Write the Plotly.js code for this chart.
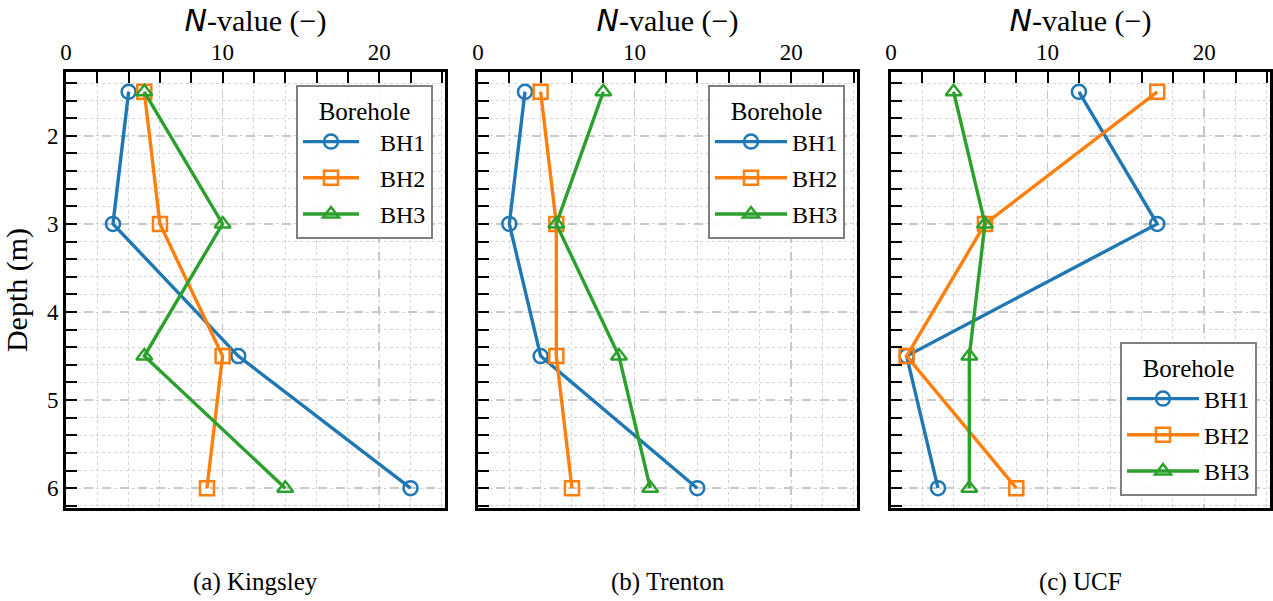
<!DOCTYPE html>
<html>
<head>
<meta charset="utf-8">
<script src="https://cdn.plot.ly/plotly-3.0.1.min.js"></script>
<style>html,body{margin:0;padding:0;background:#fff;}#chart{width:1273px;height:601px;}</style>
</head>
<body>
<div id="chart"></div>
<script>
// ---- data ----
const depths = [1.5, 3, 4.5, 6];
const boreholes = ["BH1", "BH2", "BH3"];
const sites = ["(a) Kingsley", "(b) Trenton", "(c) UCF"];
const kingsleyBH1 = [4, 3, 11, 22];
const kingsleyBH2 = [5, 6, 10, 9];
const kingsleyBH3 = [5, 10, 5, 14];
const trentonBH1 = [3, 2, 4, 14];
const trentonBH2 = [4, 5, 5, 6];
const trentonBH3 = [8, 5, 9, 11];
const ucfBH1 = [12, 17, 1, 3];
const ucfBH2 = [17, 6, 1, 8];
const ucfBH3 = [4, 6, 5, 5];
const xTickVals = [0, 10, 20];
const yTickVals = [2, 3, 4, 5, 6];

const siteSeries = [
  [kingsleyBH1, kingsleyBH2, kingsleyBH3],
  [trentonBH1, trentonBH2, trentonBH3],
  [ucfBH1, ucfBH2, ucfBH3]
];

const colors = ["#1f77b4", "#ff7f0e", "#2ca02c"];
const symbols = ["circle-open", "square-open", "triangle-up-open"];
const SERIF = "Liberation Serif";

const traces = [];
siteSeries.forEach((series, si) => {
  const sfx = si === 0 ? "" : String(si + 1);
  series.forEach((vals, bi) => {
    traces.push({
      type: "scatter",
      mode: "lines+markers",
      name: boreholes[bi],
      x: vals,
      y: depths,
      xaxis: "x" + sfx,
      yaxis: "y" + sfx,
      legend: "legend" + sfx,
      legendgroup: "g" + si + "_" + bi,
      line: {color: colors[bi], width: 3.4},
      marker: {symbol: symbols[bi], size: 14, color: colors[bi], line: {color: colors[bi], width: 2.5}},
      cliponaxis: false,
      hoverinfo: "x+y+name"
    });
  });
});

const W = 1273, H = 601;
const mL = 66, mR = 3, mT = 72, mB = 93;
const pw = W - mL - mR, ph = H - mT - mB;
function px2dom(a, b) { return [(a - mL) / pw, (b - mL) / pw]; }
const domains = [px2dom(66, 445), px2dom(478, 857), px2dom(891, 1270)];

function xaxisDef(i) {
  return {
    domain: domains[i],
    anchor: i === 0 ? "y" : "y" + (i + 1),
    side: "top",
    range: [0, 24.2],
    tickvals: xTickVals,
    ticks: "inside",
    ticklen: 11,
    tickwidth: 2,
    tickcolor: "#000",
    showline: true,
    linecolor: "#000",
    linewidth: 3,
    mirror: true,
    showgrid: true,
    gridcolor: "#c8c8c8",
    gridwidth: 1.5,
    griddash: "dash",
    zeroline: false,
    tickfont: {family: SERIF, size: 23, color: "#000"},
    minor: {dtick: 2, tick0: 0, ticks: "inside", ticklen: 11, tickwidth: 2, tickcolor: "#000",
            showgrid: true, gridcolor: "#d4d4d4", gridwidth: 1, griddash: "dot"},
    title: {text: '<span style="font-family:DejaVu Sans"><i>N</i></span>-value (−)',
            font: {family: SERIF, size: 30, color: "#000"}, standoff: 0},
    automargin: false
  };
}
function yaxisDef(i) {
  return {
    domain: [0, 1],
    anchor: i === 0 ? "x" : "x" + (i + 1),
    range: [6.225, 1.275],
    tickvals: yTickVals,
    showticklabels: i === 0,
    ticks: "inside",
    ticklen: 11,
    tickwidth: 2,
    tickcolor: "#000",
    showline: true,
    linecolor: "#000",
    linewidth: 3,
    mirror: true,
    showgrid: true,
    gridcolor: "#c8c8c8",
    gridwidth: 1.5,
    griddash: "dash",
    zeroline: false,
    tickfont: {family: SERIF, size: 23, color: "#000"},
    minor: {dtick: 0.2, tick0: 0, ticks: "inside", ticklen: 11, tickwidth: 2, tickcolor: "#000",
            showgrid: true, gridcolor: "#d4d4d4", gridwidth: 1, griddash: "dot"},
    title: i === 0 ? {text: "Depth (m)", font: {family: SERIF, size: 30, color: "#000"}, standoff: 16} : {text: ""},
    automargin: false
  };
}
function legendDef(xr, ypos, yanchor) {
  return {
    x: xr, xanchor: "right", y: ypos, yanchor: yanchor,
    bgcolor: "rgba(255,255,255,0.9)",
    bordercolor: "#7f7f7f",
    borderwidth: 2,
    font: {family: SERIF, size: 24, color: "#000"},
    title: {text: "Borehole", side: "top center", font: {family: SERIF, size: 25, color: "#000"}},
    tracegroupgap: 2,
    itemwidth: 72
  };
}

const layout = {
  width: W, height: H,
  margin: {l: mL, r: mR, t: mT, b: mB, pad: 0},
  paper_bgcolor: "#fff",
  plot_bgcolor: "#fff",
  showlegend: true,
  font: {family: SERIF, color: "#000"},
  xaxis: xaxisDef(0), xaxis2: xaxisDef(1), xaxis3: xaxisDef(2),
  yaxis: yaxisDef(0), yaxis2: yaxisDef(1), yaxis3: yaxisDef(2),
  legend: legendDef((433 - mL) / pw, 1 - (85 - mT) / ph, "top"),
  legend2: legendDef((845 - mL) / pw, 1 - (85 - mT) / ph, "top"),
  legend3: legendDef((1257 - mL) / pw, (508 - 496) / ph, "bottom"),
  annotations: sites.map((s, i) => ({
    text: s, xref: "paper", yref: "paper",
    x: (domains[i][0] + domains[i][1]) / 2, y: (508 - 582) / ph,
    xanchor: "center", yanchor: "middle", showarrow: false,
    font: {family: SERIF, size: 25, color: "#000"}
  }))
};

Plotly.newPlot("chart", traces, layout, {staticPlot: true, displayModeBar: false}).then(gd => {
  // lengthen legend sample lines (matplotlib-like handles) and centre markers on them
  gd.querySelectorAll(".legend .legendlines path").forEach(p => p.setAttribute("d", "M5,0h56"));
  gd.querySelectorAll(".legend .legendpoints path.scatterpts").forEach(p => p.setAttribute("transform", "translate(33,0)"));
});
</script>
</body>
</html>
